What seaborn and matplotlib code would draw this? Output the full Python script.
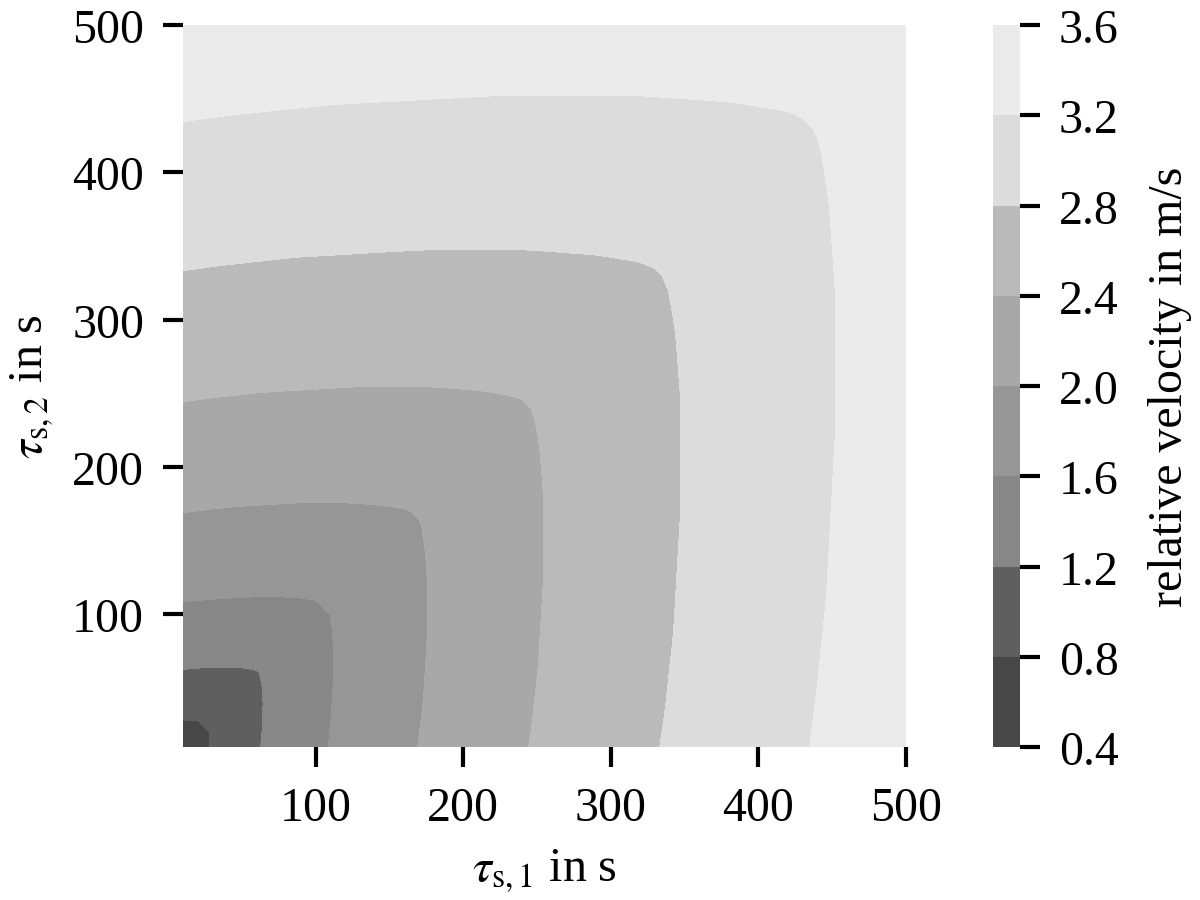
import numpy as np
import matplotlib
matplotlib.use("Agg")
import matplotlib.pyplot as plt
import seaborn as sns

tau_edge = [10, 26, 61, 106.5, 167.3, 242.5, 331.5, 433, 500]
v_edge = [0.5, 0.8, 1.2, 1.6, 2.0, 2.4, 2.8, 3.2, 3.45]

# relative dip of the velocity vs. ratio tau_min / tau_max (contour bulge)
ratio_nodes = [0.0, 0.1, 0.25, 0.5, 0.7, 0.85, 0.95, 1.0]
dip = [0.0, 0.007, 0.015, 0.022, 0.022, 0.017, 0.010, 0.002]

levels = [0.4, 0.8, 1.2, 1.6, 2.0, 2.4, 2.8, 3.2, 3.6]
band_colors = ["#474747", "#5f5f5f", "#878787", "#969696",
               "#a8a8a8", "#bababa", "#dcdcdc", "#ebebeb"]
ticks = [100, 200, 300, 400, 500]

sns.set_theme(style="ticks")
plt.rcParams["font.family"] = ["Liberation Serif", "DejaVu Serif"]
plt.rcParams["mathtext.fontset"] = "stix"
plt.rcParams.update({
    "font.size": 11.5,
    "xtick.color": "black", "ytick.color": "black",
    "xtick.major.size": 4.8, "ytick.major.size": 4.8,
    "xtick.major.width": 1.0, "ytick.major.width": 1.0,
    "xtick.major.pad": 4.5, "ytick.major.pad": 4.5,
    "axes.labelcolor": "black", "text.color": "black",
})

# sample grid for the field
tau = np.arange(10, 501, 10)
T1, T2 = np.meshgrid(tau, tau)
tmax = np.maximum(T1, T2)
tmin = np.minimum(T1, T2)
Z = np.interp(tmax, tau_edge, v_edge) * (1 - np.interp(tmin / tmax, ratio_nodes, dip))

fig = plt.figure(figsize=(4, 3.0033), dpi=300)
ax = fig.add_axes([0.1525, 0.1698, 0.6025, 0.8013])
cax = fig.add_axes([0.8275, 0.1698, 0.0225, 0.8013])

cs = ax.contourf(T1, T2, Z, levels=levels, colors=band_colors)
ax.set_xlim(10, 500)
ax.set_ylim(10, 500)
ax.set_xticks(ticks)
ax.set_yticks(ticks)
ax.set_xlabel(r"$\tau_{\mathrm{s},1}$ in s", fontsize=11.5)
ax.set_ylabel(r"$\tau_{\mathrm{s},2}$ in s", fontsize=11.5)
ax.tick_params(labelsize=11.5)
sns.despine(ax=ax, left=True, bottom=True)

cb = fig.colorbar(cs, cax=cax, ticks=levels)
cb.outline.set_visible(False)
cb.ax.set_yticklabels([f"{v:.1f}" for v in levels])
cb.ax.tick_params(labelsize=11.5, length=4.8, width=1.0, color="black")
cb.set_label("relative velocity in m/s", fontsize=11.5, labelpad=7)

fig.savefig("out.png", dpi=300)
